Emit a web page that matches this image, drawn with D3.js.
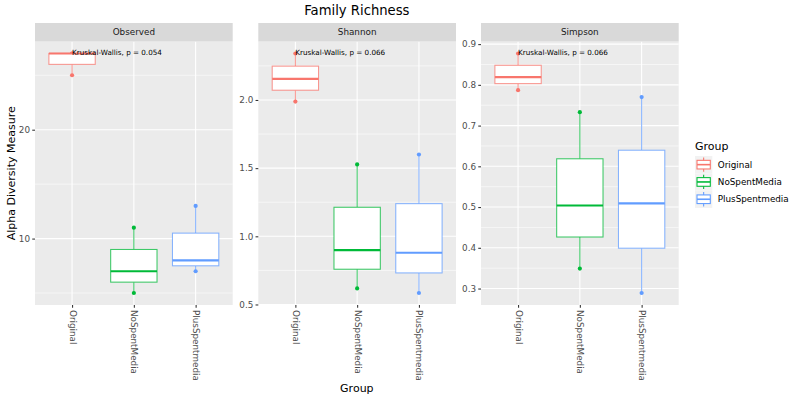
<!DOCTYPE html>
<html lang="en">
<head>
<meta charset="UTF-8">
<script src="https://d3js.org/d3.v7.min.js"></script>
<title>Family Richness</title>
<style>
  body { margin: 0; background: #fff; }
  text { font-family: "DejaVu Sans", sans-serif; }
</style>
</head>
<body>
<svg id="chart" width="800" height="400"></svg>
<script>
var width = 800, height = 400;

// data (3 samples per group)
var groups = ["Original", "NoSpentMedia", "PlusSpentmedia"];
var groupColors = ["#F8766D", "#00BA38", "#619CFF"];
var measures = ["Observed", "Shannon", "Simpson"];

var observedValues = [[25, 27, 27], [5, 7, 11], [7, 8, 13]];
var shannonValues = [[1.988, 2.155, 2.341], [0.618, 0.899, 1.527], [0.584, 0.879, 1.600]];
var simpsonValues = [[0.787, 0.819, 0.877], [0.349, 0.504, 0.733], [0.289, 0.509, 0.770]];

var pValues = ["0.054", "0.066", "0.066"];

var observedTicks = [10, 20], observedMinor = [5, 15, 25];
var shannonTicks = [0.5, 1.0, 1.5, 2.0], shannonMinor = [0.75, 1.25, 1.75, 2.25];
var simpsonTicks = [0.3, 0.4, 0.5, 0.6, 0.7, 0.8, 0.9], simpsonMinor = [0.35, 0.45, 0.55, 0.65, 0.75, 0.85];

var panels = [
    {name: measures[0], values: observedValues, ticks: observedTicks, minor: observedMinor, fmt: d3.format("d"), p: pValues[0]},
    {name: measures[1], values: shannonValues, ticks: shannonTicks, minor: shannonMinor, fmt: d3.format(".1f"), p: pValues[1]},
    {name: measures[2], values: simpsonValues, ticks: simpsonTicks, minor: simpsonMinor, fmt: d3.format(".1f"), p: pValues[2]}
];

// layout
var panelLeft = [35, 258.3, 481], panelW = 197.7;
var plotTop = 41.5, plotBottom = 305, stripTop = 23;

var svg = d3.select("#chart");

var color = d3.scaleOrdinal().domain(groups).range(groupColors);

panels.forEach(function(p, i) {
    var x0 = panelLeft[i];
    var g = svg.append("g").attr("transform", "translate(" + x0 + ",0)");

    // discrete scale like ggplot: 0.6 step padding each side
    var x = d3.scalePoint().domain(groups).range([0, panelW]).padding(0.6);
    var step = x.step();

    var all = d3.merge(p.values);
    var ext = d3.extent(all), pad = (ext[1] - ext[0]) * 0.05;
    var y = d3.scaleLinear().domain([ext[0] - pad, ext[1] + pad]).range([plotBottom, plotTop]);

    // panel background
    g.append("rect").attr("x", 0).attr("y", plotTop).attr("width", panelW).attr("height", plotBottom - plotTop)
        .attr("fill", "#ebebeb");

    // grid
    g.selectAll(".minor").data(p.minor.filter(function(v){ return y(v) >= plotTop && y(v) <= plotBottom; }))
        .join("line").attr("x1", 0).attr("x2", panelW)
        .attr("y1", function(d){ return y(d); }).attr("y2", function(d){ return y(d); })
        .attr("stroke", "#fff").attr("stroke-width", 0.55);
    g.selectAll(".major").data(p.ticks).join("line").attr("x1", 0).attr("x2", panelW)
        .attr("y1", function(d){ return y(d); }).attr("y2", function(d){ return y(d); })
        .attr("stroke", "#fff").attr("stroke-width", 1.1);
    g.selectAll(".vgrid").data(groups).join("line")
        .attr("x1", function(d){ return x(d); }).attr("x2", function(d){ return x(d); })
        .attr("y1", plotTop).attr("y2", plotBottom)
        .attr("stroke", "#fff").attr("stroke-width", 1.1);

    // strip
    g.append("rect").attr("x", 0).attr("y", stripTop).attr("width", panelW).attr("height", plotTop - stripTop)
        .attr("fill", "#d9d9d9");
    g.append("text").attr("x", panelW / 2).attr("y", (stripTop + plotTop) / 2)
        .attr("text-anchor", "middle").attr("dominant-baseline", "central")
        .attr("font-size", 8.8).attr("fill", "#1a1a1a").text(p.name);

    // y axis
    var yAxis = d3.axisLeft(y).tickValues(p.ticks).tickFormat(p.fmt).tickSize(2.75).tickPadding(2.2);
    var ya = g.append("g").call(yAxis);
    ya.select(".domain").remove();
    ya.selectAll(".tick line").attr("stroke", "#333").attr("stroke-width", 1.07);
    ya.selectAll(".tick text").attr("fill", "#4d4d4d").attr("font-size", 8.8)
        .style("font-family", "DejaVu Sans, sans-serif");

    // x axis
    var xAxis = d3.axisBottom(x).tickSize(2.75).tickPadding(2.2);
    var xa = g.append("g").attr("transform", "translate(0," + plotBottom + ")").call(xAxis);
    xa.select(".domain").remove();
    xa.selectAll(".tick line").attr("stroke", "#333").attr("stroke-width", 1.07);
    xa.selectAll(".tick text").attr("fill", "#4d4d4d").attr("font-size", 8.8)
        .style("font-family", "DejaVu Sans, sans-serif")
        .attr("transform", "rotate(90)")
        .attr("x", 5).attr("y", 0).attr("dy", null)
        .attr("text-anchor", "start").attr("dominant-baseline", "central");

    // points first, boxes cover them
    groups.forEach(function(grp, j) {
        var vals = p.values[j].slice().sort(d3.ascending);
        var cx = x(grp);
        g.selectAll(".pt" + j).data(vals).join("circle")
            .attr("cx", cx).attr("cy", function(d){ return y(d); }).attr("r", 2.1)
            .attr("fill", color(grp));

        var q1 = d3.quantileSorted(vals, 0.25), med = d3.quantileSorted(vals, 0.5), q3 = d3.quantileSorted(vals, 0.75);
        var iqr = q3 - q1;
        var lo = d3.min(vals.filter(function(v){ return v >= q1 - 1.5 * iqr; }));
        var hi = d3.max(vals.filter(function(v){ return v <= q3 + 1.5 * iqr; }));
        var bw = step * 0.75;
        var c = color(grp);

        g.append("line").attr("x1", cx).attr("x2", cx).attr("y1", y(hi)).attr("y2", y(q3))
            .attr("stroke", c).attr("stroke-width", 1.07).attr("stroke-opacity", 0.75);
        g.append("line").attr("x1", cx).attr("x2", cx).attr("y1", y(q1)).attr("y2", y(lo))
            .attr("stroke", c).attr("stroke-width", 1.07).attr("stroke-opacity", 0.75);
        g.append("rect").attr("x", cx - bw / 2).attr("y", y(q3)).attr("width", bw)
            .attr("height", Math.max(0.5, y(q1) - y(q3)))
            .attr("fill", "#fff").attr("stroke", c).attr("stroke-width", 1.07).attr("stroke-opacity", 0.75);
        g.append("line").attr("x1", cx - bw / 2).attr("x2", cx + bw / 2).attr("y1", y(med)).attr("y2", y(med))
            .attr("stroke", c).attr("stroke-width", 2.1);
    });

    // Kruskal-Wallis label
    var ymax = d3.max(all);
    g.append("text").attr("x", x(groups[0])).attr("y", y(ymax))
        .attr("dy", "0.2em").attr("font-size", 7.2).attr("fill", "#000")
        .text("Kruskal-Wallis, p = " + p.p);
});

// titles
var midX = (panelLeft[0] + panelLeft[2] + panelW) / 2;
svg.append("text").attr("x", midX).attr("y", 10)
    .attr("text-anchor", "middle").attr("dominant-baseline", "central")
    .attr("font-size", 13.2).attr("fill", "#000").text("Family Richness");
svg.append("text").attr("x", midX).attr("y", 388)
    .attr("text-anchor", "middle").attr("dominant-baseline", "central")
    .attr("font-size", 11).attr("fill", "#000").text("Group");
svg.append("text").attr("transform", "translate(11," + (plotTop + plotBottom) / 2 + ") rotate(-90)")
    .attr("text-anchor", "middle").attr("dominant-baseline", "central")
    .attr("font-size", 11).attr("fill", "#000").text("Alpha Diversity Measure");

// legend
var lg = svg.append("g").attr("transform", "translate(695,146)");
lg.append("text").attr("x", 0).attr("y", 0).attr("dominant-baseline", "central")
    .attr("font-size", 11).attr("fill", "#000").text("Group");
var keyH = 17.3;
groups.forEach(function(grp, j) {
    var ky = 10 + j * keyH;
    var c = color(grp);
    var k = lg.append("g").attr("transform", "translate(0," + ky + ")");
    k.append("rect").attr("width", keyH).attr("height", keyH).attr("fill", "#f2f2f2");
    k.append("line").attr("x1", keyH / 2).attr("x2", keyH / 2).attr("y1", 1.5).attr("y2", keyH - 1.5)
        .attr("stroke", c).attr("stroke-width", 1.07);
    k.append("rect").attr("x", 2).attr("y", keyH * 0.25).attr("width", keyH - 4).attr("height", keyH * 0.5)
        .attr("fill", "#fff").attr("stroke", c).attr("stroke-width", 1.07);
    k.append("line").attr("x1", 2).attr("x2", keyH - 2).attr("y1", keyH / 2).attr("y2", keyH / 2)
        .attr("stroke", c).attr("stroke-width", 1.6);
    k.append("text").attr("x", keyH + 5.5).attr("y", keyH / 2).attr("dominant-baseline", "central")
        .attr("font-size", 8.8).attr("fill", "#000").text(grp);
});
</script>
</body>
</html>
